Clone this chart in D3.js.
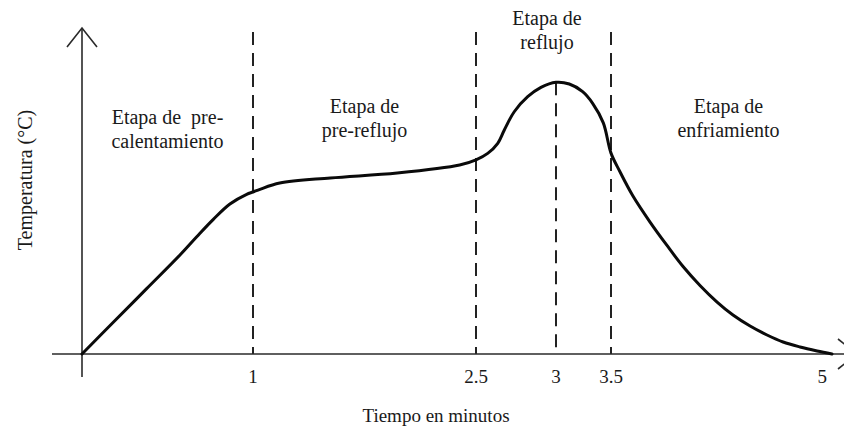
<!DOCTYPE html>
<html>
<head>
<meta charset="utf-8">
<script src="https://cdn.jsdelivr.net/npm/d3@7"></script>
<style>
  html, body { margin: 0; padding: 0; background: #fff; }
  svg { display: block; }
  text { font-family: "Liberation Serif", "Times New Roman", Times, serif; fill: #1a1a1a; }
</style>
</head>
<body>
<svg id="chart" width="844" height="432"></svg>
<script>
// ---- data ----
const timeMin = [0, 0.183, 0.378, 0.573, 0.671, 0.768, 0.865, 0.963, 1.0, 1.047, 1.18, 1.52, 1.97, 2.39, 2.5,
                 2.573, 2.636, 2.677, 2.739, 2.823, 2.906, 3.0, 3.121, 3.242, 3.333, 3.43, 3.5,
                 3.56, 3.649, 3.765, 3.88, 3.989, 4.104, 4.22, 4.328, 4.444, 4.559, 4.668, 4.783, 4.899, 5.0];
const tempC   = [0, 29.4, 60.5, 91.7, 108.6, 124.7, 138.9, 147.9, 150, 152.5, 158.3, 163, 167.6, 175, 179.8,
                 185.8, 195.1, 207.4, 224.3, 238.2, 246.9, 251.6, 250, 242.9, 232.1, 214, 186,
                 169, 146.3, 122.2, 100.5, 81, 63.5, 48.1, 36.1, 25.9, 17.6, 11.1, 6.5, 2.8, 0];
const tickValues = [1, 2.5, 3, 3.5, 5];
const tickLabels = ["1", "2.5", "3", "3.5", "5"];
const stageBounds = [1, 2.5, 3.5];
const peakTime = 3;
const stageStart = [0, 1, 2.5, 3.5];
const stageEnd   = [1, 2.5, 3.5, 5];
const stageLines = [
  ["Etapa de  pre-", "calentamiento"],
  ["Etapa de", "pre-reflujo"],
  ["Etapa de", "reflujo"],
  ["Etapa de", "enfriamiento"]
];
const xTitle = "Tiempo en minutos";
const yTitle = "Temperatura (°C)";

// ---- layout ----
const FONT = '"Liberation Serif", "Times New Roman", Times, serif';
const svg = d3.select("#chart");
const x = d3.scaleLinear().domain([0, 1, 2.5, 3, 3.5, 5]).range([82, 253, 476, 556, 611, 832]);
const y = d3.scaleLinear().domain([0, 300]).range([354, 30]);
const x0 = x(0), y0 = y(0);

const axisColor = "#2a2a2a";

// dashed stage boundaries
svg.selectAll("line.bound").data(stageBounds).join("line")
  .attr("class", "bound")
  .attr("x1", d => x(d)).attr("x2", d => x(d))
  .attr("y1", 32).attr("y2", y0)
  .attr("stroke", "#222").attr("stroke-width", 2)
  .attr("stroke-dasharray", "13,8");

// dashed line at peak
svg.append("line")
  .attr("x1", x(peakTime)).attr("x2", x(peakTime))
  .attr("y1", y(d3.max(tempC))).attr("y2", y0)
  .attr("stroke", "#222").attr("stroke-width", 2)
  .attr("stroke-dasharray", "13,8");

// axes
svg.append("line").attr("x1", 52).attr("x2", 844).attr("y1", y0).attr("y2", y0)
  .attr("stroke", axisColor).attr("stroke-width", 1.6);
svg.append("line").attr("x1", x0).attr("x2", x0).attr("y1", y0 + 23).attr("y2", 28)
  .attr("stroke", axisColor).attr("stroke-width", 1.6);
svg.append("path").attr("d", `M${x0 - 15},47 L${x0},28 L${x0 + 15},47`)
  .attr("fill", "none").attr("stroke", axisColor).attr("stroke-width", 1.6);
svg.append("path").attr("d", `M838,${y0 - 15} L857,${y0} L838,${y0 + 15}`)
  .attr("fill", "none").attr("stroke", axisColor).attr("stroke-width", 1.6);

// curve
const line = d3.line().x((d, i) => x(timeMin[i])).y(d => y(d)).curve(d3.curveCatmullRom.alpha(0.5));
svg.append("path").datum(tempC).attr("d", line)
  .attr("fill", "none").attr("stroke", "#0a0a0a").attr("stroke-width", 3)
  .attr("stroke-linejoin", "round").attr("stroke-linecap", "round");

// tick labels
svg.selectAll("text.tick").data(tickValues).join("text")
  .attr("class", "tick")
  .attr("font-family", FONT)
  .attr("x", d => d === 5 ? x(d) - 5 : x(d))
  .attr("y", 383)
  .attr("text-anchor", d => d === 5 ? "end" : "middle")
  .attr("font-size", 19)
  .text((d, i) => tickLabels[i]);

// stage labels
const stageDx = [0, 0, -9, 7];
const stageY = [124, 113, 25, 113];
stageLines.forEach((lines, i) => {
  const cx = x((stageStart[i] + stageEnd[i]) / 2) + stageDx[i];
  const t = svg.append("text").attr("text-anchor", "middle").attr("font-size", 20)
    .attr("font-family", FONT).style("white-space", "pre");
  lines.forEach((s, j) => {
    t.append("tspan").attr("x", cx).attr("y", stageY[i] + j * 23.5).text(s);
  });
});

// axis titles
svg.append("text").attr("x", 436).attr("y", 422).attr("text-anchor", "middle")
  .attr("font-family", FONT).attr("font-size", 19).text(xTitle);
svg.append("text").attr("transform", "translate(32,180) rotate(-90)")
  .attr("font-family", FONT).attr("text-anchor", "middle").attr("font-size", 20).text(yTitle);
</script>
</body>
</html>
